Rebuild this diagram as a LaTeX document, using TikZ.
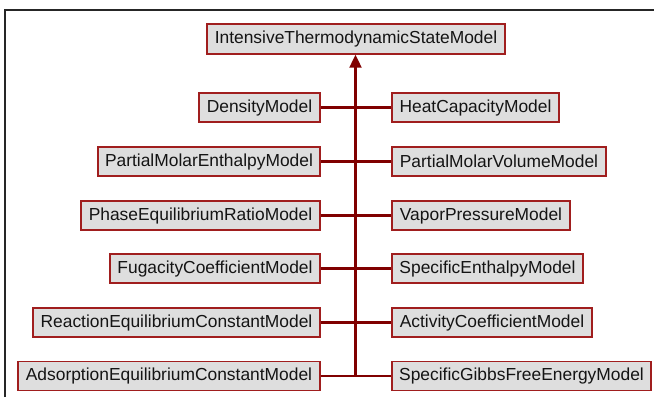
\documentclass[tikz,border=0pt]{standalone}
\usepackage{fontspec}
\setmainfont{Liberation Sans}
\usetikzlibrary{arrows.meta}
\definecolor{boxfill}{RGB}{222,222,222}
\definecolor{boxline}{RGB}{160,30,30}
\definecolor{conn}{RGB}{128,0,0}
\definecolor{txt}{RGB}{20,20,20}
\begin{document}
\begin{tikzpicture}[x=1bp,y=-1bp,
  cls/.style={draw=boxline,fill=boxfill,line width=1.4bp,inner sep=0pt,
    minimum height=29bp,text=txt,font=\fontsize{17.4bp}{20bp}\selectfont},
  link/.style={draw=conn,line width=2.2bp},
  frameline/.style={draw=black!85,line width=1.5bp}]
\useasboundingbox (0,0) rectangle (654,401);
\draw[frameline] (5,397) -- (5,10) -- (654,10);
% top
\node[cls,minimum width=298bp,minimum height=30bp] (top) at (356,39) {IntensiveThermodynamicStateModel};
% left column (right edge at 320)
\node[cls,minimum width=121bp] (l1) at ({320-121/2},107.5) {DensityModel};
\node[cls,minimum width=222bp] (l2) at ({320-222/2},161.5) {PartialMolarEnthalpyModel};
\node[cls,minimum width=239bp] (l3) at ({320-239/2},215.5) {PhaseEquilibriumRatioModel};
\node[cls,minimum width=210bp] (l4) at ({320-210/2},268.5) {FugacityCoefficientModel};
\node[cls,minimum width=287bp] (l5) at ({320-287/2},322.5) {ReactionEquilibriumConstantModel};
\node[cls,minimum width=302bp] (l6) at ({320-302/2},376) {AdsorptionEquilibriumConstantModel};
% right column (left edge at 392)
\node[cls,minimum width=167bp] (r1) at ({392+167/2},107.5) {HeatCapacityModel};
\node[cls,minimum width=214bp] (r2) at ({392+214/2},161.5) {PartialMolarVolumeModel};
\node[cls,minimum width=178bp] (r3) at ({392+178/2},215.5) {VaporPressureModel};
\node[cls,minimum width=191bp] (r4) at ({392+191/2},268.5) {SpecificEnthalpyModel};
\node[cls,minimum width=200bp] (r5) at ({392+200/2},322.5) {ActivityCoefficientModel};
\node[cls,minimum width=259bp] (r6) at ({392+259/2},376) {SpecificGibbsFreeEnergyModel};
% connectors
\coordinate (trunk) at (355.5,376);
\foreach \i in {1,...,6}{\draw[link] (l\i.east) -- (r\i.west);}
\draw[link,-{Triangle[length=13bp,width=12bp]}] (trunk) -- (top.south -| trunk);
\end{tikzpicture}
\end{document}
